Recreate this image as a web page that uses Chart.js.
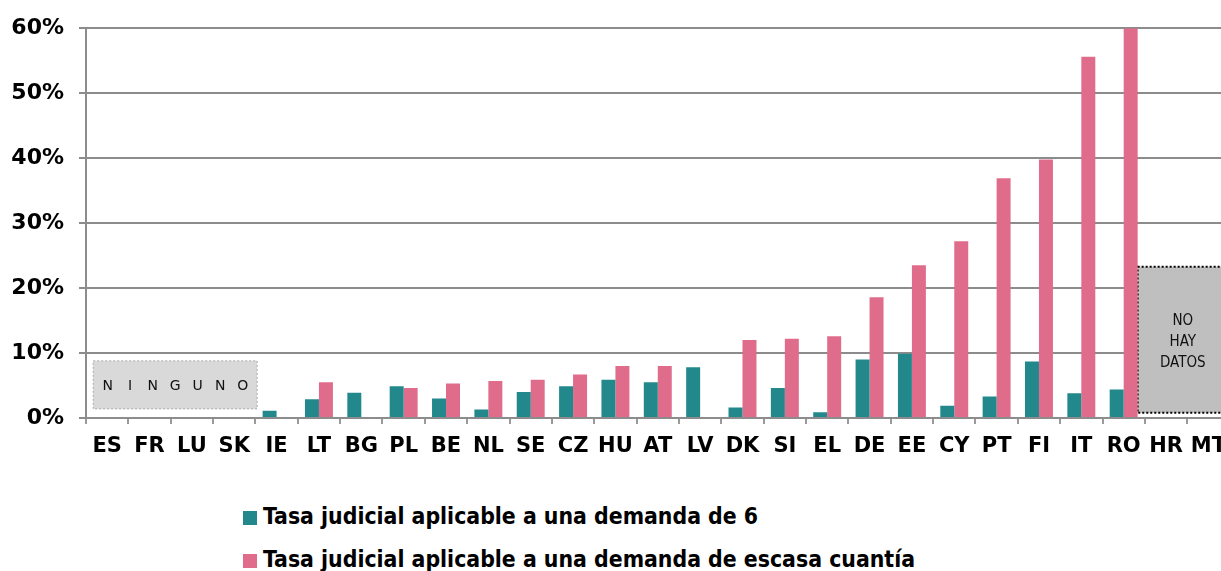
<!DOCTYPE html>
<html>
<head>
<meta charset="utf-8">
<script src="https://cdn.jsdelivr.net/npm/chart.js@4/dist/chart.umd.min.js"></script>
<style>
  html, body { margin: 0; padding: 0; background: #fff; overflow: hidden; width: 1221px; height: 571px; }
  #graph { position: absolute; left: 0; top: 0; }
  #legend { position: absolute; left: 243px; top: 502px; font-family: "DejaVu Sans Condensed", "Liberation Sans Narrow", "DejaVu Sans", sans-serif; font-stretch: condensed; font-weight: bold; font-size: 22.8px; color: #000; }
  #legend div { height: 29px; line-height: 29px; margin-bottom: 14px; white-space: nowrap; }
  #legend span { display: inline-block; width: 14px; height: 14px; margin-right: 6px; vertical-align: -1px; }
</style>
</head>
<body>
<canvas id="graph" width="1236" height="476"></canvas>
<div id="legend"></div>
<script>
// Countries, in the order of the chart
var paises = ['ES', 'FR', 'LU', 'SK', 'IE', 'LT', 'BG', 'PL', 'BE', 'NL', 'SE', 'CZ', 'HU', 'AT',
              'LV', 'DK', 'SI', 'EL', 'DE', 'EE', 'CY', 'PT', 'FI', 'IT', 'RO', 'HR', 'MT'];

// Court fee as % of the claim value
var tasa6 = [null, null, null, null, 1.1, 2.9, 3.9, 4.9, 3.0, 1.3, 4.0, 4.9, 5.9, 5.5,
             7.8, 1.6, 4.6, 0.9, 9.0, 9.9, 1.9, 3.3, 8.7, 3.8, 4.4, null, null];
var tasaEscasa = [null, null, null, null, null, 5.5, null, 4.6, 5.3, 5.7, 5.9, 6.7, 8.0, 8.0,
                  null, 12.0, 12.2, 12.6, 18.6, 23.5, 27.2, 36.9, 39.8, 55.6, 60.0, null, null];

var nombres = ['Tasa judicial aplicable a una demanda de 6',
               'Tasa judicial aplicable a una demanda de escasa cuantía'];
var colores = ['#23888c', '#e06c8c'];

var yTicks = [0, 10, 20, 30, 40, 50, 60];

// grey notes drawn on the plot
var notas = [
  { texto: ['N', 'I', 'N', 'G', 'U', 'N', 'O'], desde: -0.33, hasta: 3.54, arriba: 8.8, abajo: 1.4,
    fondo: '#d9d9d9', borde: '#aaaaaa', ancho: 1, letras: true },
  { texto: ['NO', 'HAY', 'DATOS'], desde: 24.33, hasta: 26.46, arriba: 23.3, abajo: 0.8,
    fondo: '#bfbfbf', borde: '#000000', ancho: 2, letras: false }
];

var notasPlugin = {
  id: 'notas',
  beforeDatasetsDraw: function (chart) {
    var ctx = chart.ctx, x = chart.scales.x, y = chart.scales.y;
    var paso = x.getPixelForValue(1) - x.getPixelForValue(0);
    var c0 = x.getPixelForValue(0);
    notas.forEach(function (n) {
      var x0 = c0 + n.desde * paso, x1 = c0 + n.hasta * paso;
      var y0 = y.getPixelForValue(n.arriba), y1 = y.getPixelForValue(n.abajo);
      ctx.save();
      ctx.fillStyle = n.fondo;
      ctx.fillRect(x0, y0, x1 - x0, y1 - y0);
      ctx.strokeStyle = n.borde;
      ctx.lineWidth = n.ancho;
      ctx.setLineDash([2, 2]);
      ctx.strokeRect(x0, y0, x1 - x0, y1 - y0);
      ctx.setLineDash([]);
      ctx.fillStyle = '#111';
      ctx.textAlign = 'center';
      ctx.textBaseline = 'middle';
      var cx = (x0 + x1) / 2, cy = (y0 + y1) / 2;
      if (n.letras) {
        ctx.font = '14px "DejaVu Sans"';
        var sp = 22.5;
        n.texto.forEach(function (l, i) {
          ctx.fillText(l, cx + (i - (n.texto.length - 1) / 2) * sp, cy + 1);
        });
      } else {
        ctx.font = '15px "DejaVu Sans Condensed", "DejaVu Sans"';
        n.texto.forEach(function (l, i) {
          ctx.fillText(l, cx, cy + 2 + (i - 1) * 21);
        });
      }
      ctx.restore();
    });
  }
};

var canvas = document.getElementById('graph');

var chart = new Chart(canvas, {
  type: 'bar',
  data: {
    labels: paises,
    datasets: [
      { label: nombres[0], data: tasa6, backgroundColor: colores[0] },
      { label: nombres[1], data: tasaEscasa, backgroundColor: colores[1] }
    ]
  },
  options: {
    responsive: false,
    animation: false,
    categoryPercentage: 0.66,
    barPercentage: 1.0,
    layout: { padding: { top: 22, left: 0, right: 0, bottom: 0 } },
    plugins: {
      legend: { display: false },
      tooltip: { enabled: false }
    },
    scales: {
      x: {
        grid: { display: true, drawOnChartArea: false, drawTicks: true, tickLength: 6,
                offset: true, color: '#9a9a9a', lineWidth: 2 },
        border: { display: false },
        ticks: { color: '#000', padding: 10, font: { family: 'DejaVu Sans', size: 21, weight: 'bold' },
                 maxRotation: 0, autoSkip: false },
        afterFit: function (s) { s.height = 58; }
      },
      y: {
        min: 0,
        max: 60,
        afterBuildTicks: function (s) { s.ticks = yTicks.map(function (v) { return { value: v }; }); },
        grid: { color: '#8c8c8c', lineWidth: 2, tickLength: 7 },
        border: { display: true, color: '#8c8c8c', width: 2 },
        ticks: { color: '#000', padding: 15, font: { family: 'DejaVu Sans', size: 22, weight: 'bold' },
                 callback: function (v) { return v + '%'; } },
        afterFit: function (s) { s.width = 86; }
      }
    }
  },
  plugins: [notasPlugin]
});

// legend below the chart
var leg = document.getElementById('legend');
nombres.forEach(function (n, i) {
  var row = document.createElement('div');
  var sq = document.createElement('span');
  sq.style.background = colores[i];
  row.appendChild(sq);
  row.appendChild(document.createTextNode(n));
  leg.appendChild(row);
});
</script>
</body>
</html>
